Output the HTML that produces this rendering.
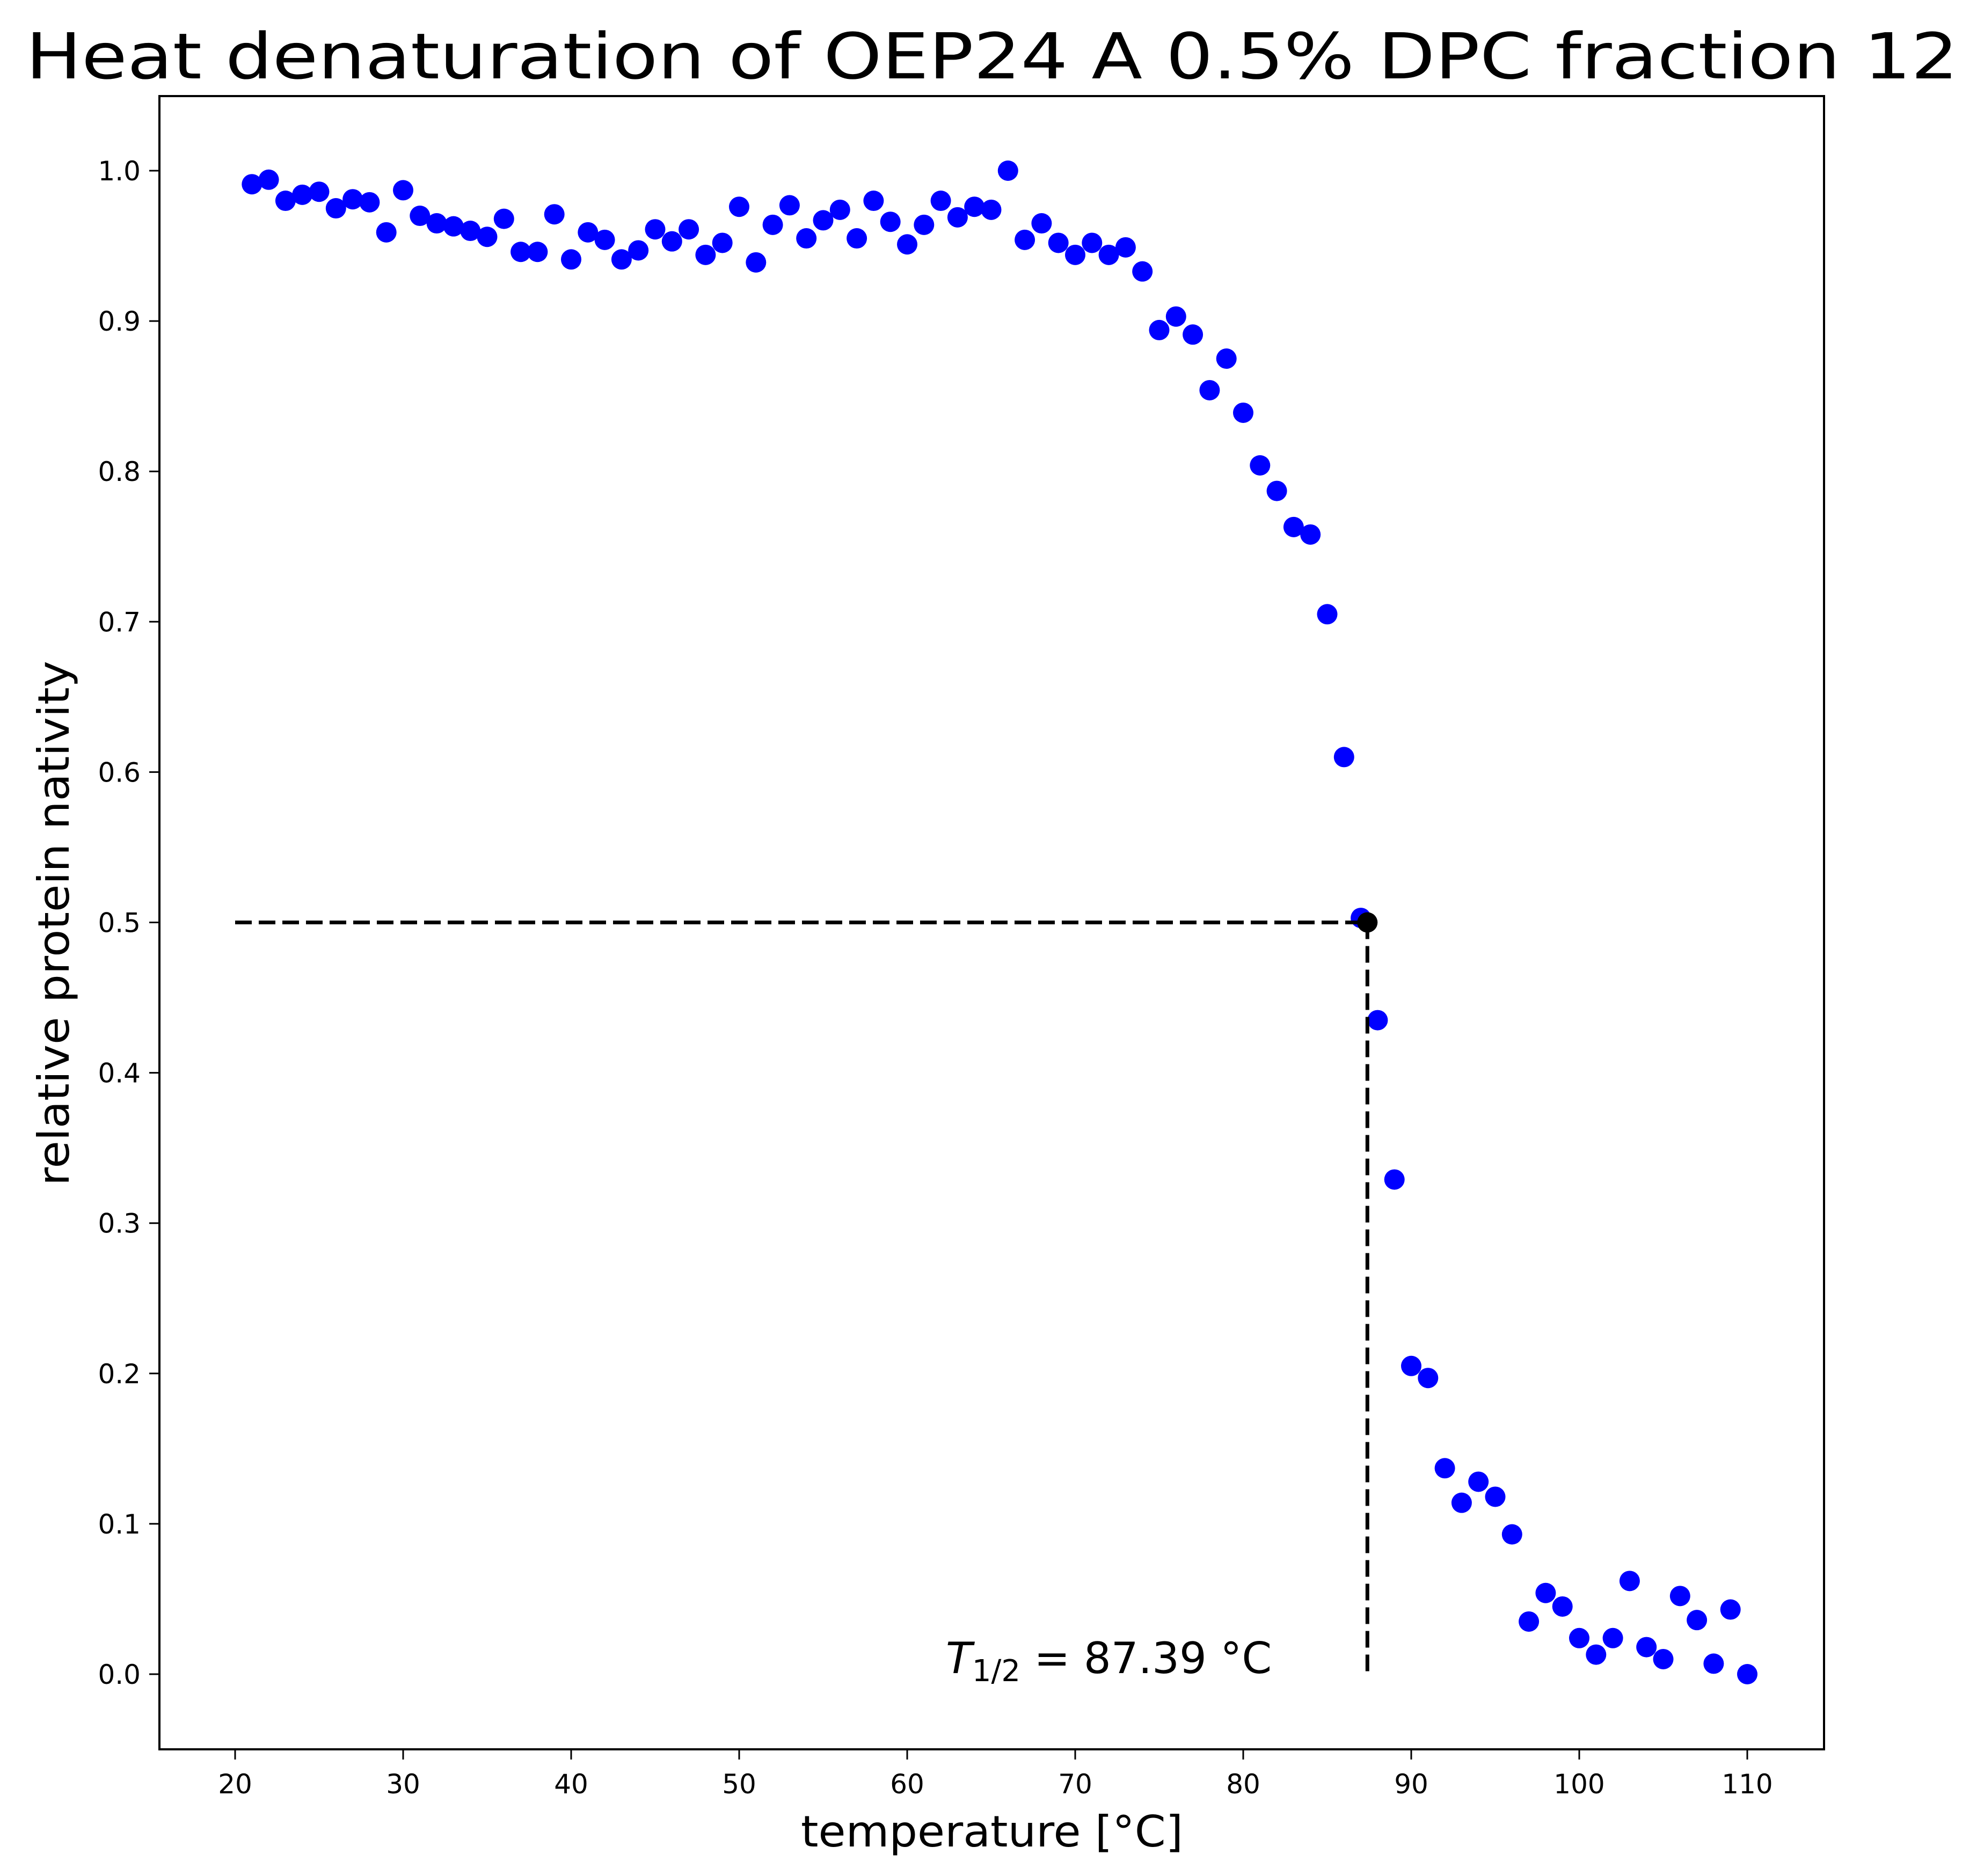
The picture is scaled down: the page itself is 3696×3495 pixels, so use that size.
<!DOCTYPE html>
<html><head><meta charset="utf-8"><style>html,body{margin:0;padding:0;background:#fff}svg{display:block}</style></head>
<body>
<svg id="chart" xmlns="http://www.w3.org/2000/svg" width="3696" height="3495" viewBox="0 0 3696 3495" font-family="'DejaVu Sans','Liberation Sans',sans-serif">
<rect width="3696" height="3495" fill="#fff"/>
<text x="1848" y="146" font-size="118" text-anchor="middle" textLength="3600" lengthAdjust="spacingAndGlyphs">Heat denaturation of OEP24 A 0.5% DPC fraction 12</text>
<g id="plot"></g>
<rect x="297" y="179" width="3101" height="3080" fill="none" stroke="#000" stroke-width="4"/>
<text x="1848" y="3440" font-size="80" text-anchor="middle" textLength="712" lengthAdjust="spacingAndGlyphs">temperature [°C]</text>
<text transform="translate(128,1720) rotate(-90)" font-size="80" text-anchor="middle" textLength="978" lengthAdjust="spacingAndGlyphs">relative protein nativity</text>
</svg>
<script>
const temps = [];
for (let t = 21; t <= 110; t++) temps.push(t);
const nativity = [0.991,0.994,0.980,0.984,0.986,0.975,0.981,0.979,0.959,0.987,
0.970,0.965,0.963,0.960,0.956,0.968,0.946,0.946,0.971,0.941,
0.959,0.954,0.941,0.947,0.961,0.953,0.961,0.944,0.952,0.976,
0.939,0.964,0.977,0.955,0.967,0.974,0.955,0.980,0.966,0.951,
0.964,0.980,0.969,0.976,0.974,1.000,0.954,0.965,0.952,0.944,
0.952,0.944,0.949,0.933,0.894,0.903,0.891,0.854,0.875,0.839,
0.804,0.787,0.763,0.758,0.705,0.610,0.503,0.435,0.329,0.205,
0.197,0.137,0.114,0.128,0.118,0.093,0.035,0.054,0.045,0.024,
0.013,0.024,0.062,0.018,0.010,0.052,0.036,0.007,0.043,0.000];
const xTicks = [20,30,40,50,60,70,80,90,100,110];
const yTicks = [0.0,0.1,0.2,0.3,0.4,0.5,0.6,0.7,0.8,0.9,1.0];
const tHalf = 87.39;
const halfLevel = 0.5;
const annotation = "= 87.39 °C";

const X = v => 438 + (v - 20) * (3255 - 438) / 90;
const Y = v => 3119 - v * (3119 - 318);
const NS = "http://www.w3.org/2000/svg";
const g = document.getElementById('plot');
function mk(tag, attrs) { const e = document.createElementNS(NS, tag); for (const k in attrs) e.setAttribute(k, attrs[k]); g.appendChild(e); return e; }

xTicks.forEach(t => {
  const tk = mk('line', {x1: X(t), x2: X(t), y1: 3259, y2: 3278, stroke: '#000', 'stroke-width': 3});
  
  
  const lb = mk('text', {x: X(t), y: 3341, 'font-size': 50, 'text-anchor': 'middle'});
  lb.textContent = t;
  
  
});
yTicks.forEach(t => {
  const tk = mk('line', {x1: 278, x2: 297, y1: Y(t), y2: Y(t), stroke: '#000', 'stroke-width': 3});
  
  
  const lb = mk('text', {x: 262, y: Y(t) + 18, 'font-size': 50, 'text-anchor': 'end'});
  lb.textContent = t.toFixed(1);
  
  
});

temps.forEach((t, i) => {
  const c = mk('circle', {cx: X(t), cy: Y(nativity[i]), r: 19, fill: '#0000ff'});
  
  
});

const h = mk('line', {x1: X(20), x2: X(tHalf), y1: Y(halfLevel), y2: Y(halfLevel), stroke: '#000', 'stroke-width': 7, 'stroke-dasharray': '31 13'});


const v = mk('line', {x1: X(tHalf), x2: X(tHalf), y1: Y(halfLevel), y2: Y(0), stroke: '#000', 'stroke-width': 7, 'stroke-dasharray': '31 13'});


const hp = mk('circle', {cx: X(tHalf), cy: Y(halfLevel), r: 19, fill: '#000'});



const ann = mk('text', {x: X(62.3), y: Y(0) - 2, 'font-size': 80});


ann.innerHTML = '<tspan font-style="italic">T</tspan><tspan font-size="56" dy="15">1/2</tspan><tspan dy="-15"> ' + annotation + '</tspan>';
</script>
</body></html>
